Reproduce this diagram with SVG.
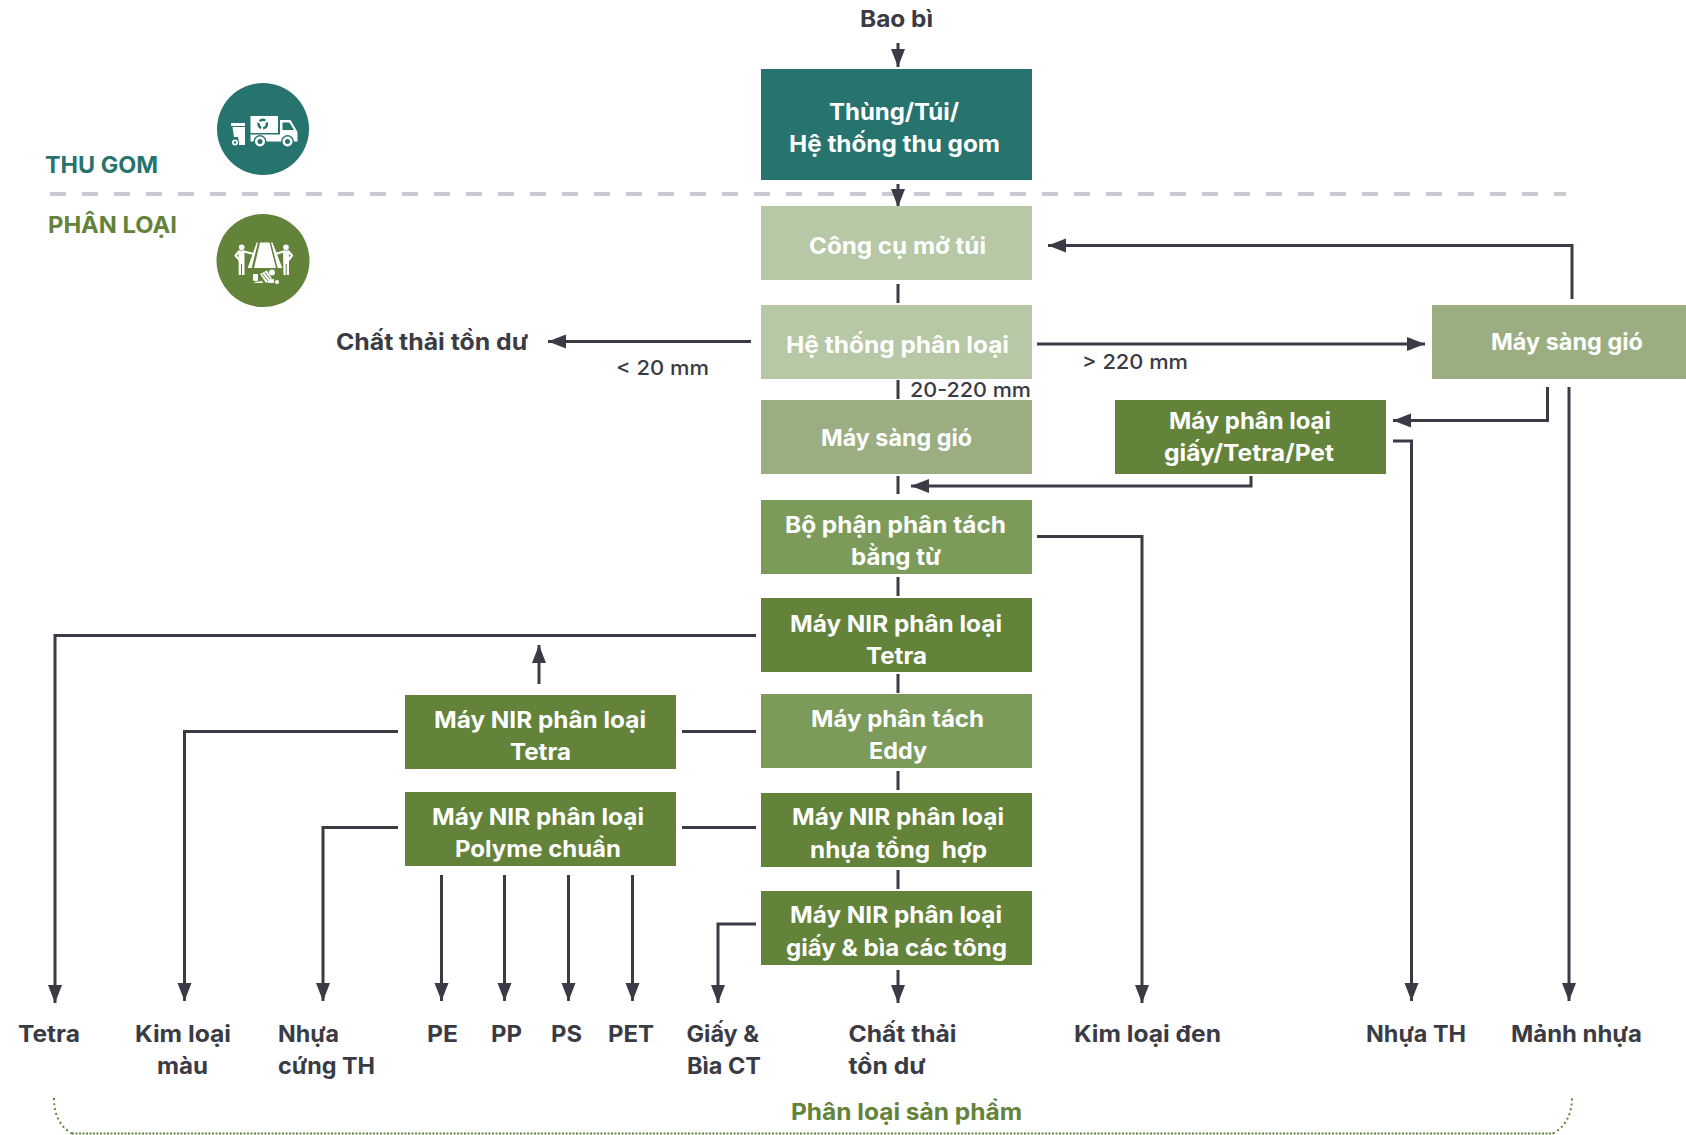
<svg xmlns="http://www.w3.org/2000/svg" width="1686" height="1135" viewBox="0 0 1686 1135">
<style>
text{font-family:"Inter","Liberation Sans",sans-serif;font-weight:700;font-size:23px;fill:#3a3b44}
.w{fill:#fff}
.m{font-weight:500;font-size:20px}
.teal{fill:#27736d}.dk{fill:#63823a}.md{fill:#7c9b5b}.sg{fill:#9aae82}.lt{fill:#b6c8a6}
#connectors path{fill:none;stroke:#3a3b44;stroke-width:3}
.a{marker-end:url(#ah)}
.lim{fill:none;stroke:#fff;stroke-width:2.200;stroke-linejoin:round;stroke-linecap:round}
</style>
<defs><marker id="ah" markerUnits="userSpaceOnUse" markerWidth="19" markerHeight="16" refX="18" refY="7" orient="auto" viewBox="0 0 19 14"><path d="M0 0L18 7L0 14Z" fill="#3a3b44"/></marker></defs>
<rect width="1686" height="1135" fill="#fff"/>
<path d="M50 194H1566" stroke="#c9cbd0" stroke-width="4" stroke-dasharray="16 16" fill="none"/>
<g id="connectors">
<path class="a" d="M898 43V67"/><path class="a" d="M898 184V207"/>
<path d="M898 284V303M898 380V399M898 476V494M898 577V596M898 674V693M898 771V790M898 870V889"/>
<path class="a" d="M1572 299V245.500H1048"/>
<path class="a" d="M1037 344H1425"/>
<path class="a" d="M751 341.500H548"/>
<path class="a" d="M1547.500 387V420.500H1393"/>
<path class="a" d="M1569 387V1001"/>
<path class="a" d="M1393 441H1411.500V1001"/>
<path class="a" d="M1251 476V486H911"/>
<path class="a" d="M1037 536.500H1142V1003"/>
<path class="a" d="M756 635.500H55V1003"/>
<path class="a" d="M539 684V645"/>
<path d="M682 731.500H756M682 827.500H756"/>
<path class="a" d="M398 731.500H184.500V1001"/>
<path class="a" d="M398 827.500H323V1001"/>
<path class="a" d="M441.500 875V1001"/><path class="a" d="M504.500 875V1001"/><path class="a" d="M568.500 875V1001"/><path class="a" d="M632.500 875V1001"/>
<path class="a" d="M756 924H718V1003"/>
<path class="a" d="M898 970V1003"/>
</g>
<g id="bracket" fill="none" stroke="#63823a" stroke-width="2">
<path stroke-dasharray="2 1.500" d="M72 1133.500H1553"/>
<path stroke-dasharray="2 3" d="M54 1098C54 1115 60 1127 72 1133.500"/>
<path stroke-dasharray="2 3" d="M1553 1133.500C1565 1127 1572 1115 1572 1097"/>
</g>
<g id="thu-gom-icon"><circle cx="263" cy="129" r="46" class="teal"/>
<path fill="#fff" fill-rule="evenodd" d="M250.500 116H278V133H250.500ZM250.500 134.500H280V120H290.500L297.500 132V141.500H250.500ZM282.500 122.500V130H294L289.500 122.500Z"/>
<path fill="#fff" d="M231 123H245V126H231ZM232.500 127H245V145H239L238 137H234Z"/>
<g fill="#27736d"><circle cx="260" cy="141.500" r="6.500"/><circle cx="287.500" cy="141.500" r="6.500"/><circle cx="235" cy="142.500" r="4"/></g>
<g fill="#fff"><circle cx="260" cy="141.500" r="5"/><circle cx="287.500" cy="141.500" r="5"/><circle cx="235" cy="142.500" r="3"/></g>
<g fill="#27736d"><circle cx="260" cy="141.500" r="2.500"/><circle cx="287.500" cy="141.500" r="2.500"/><circle cx="235" cy="142.500" r="1.200"/></g>
<circle cx="262.700" cy="124" r="4.200" fill="none" stroke="#27736d" stroke-width="2.400" stroke-dasharray="6 2"/></g>
<g id="phan-loai-icon"><circle cx="263" cy="260.500" r="46.500" class="dk"/>
<path fill="#fff" d="M260 242.500H269.500L276 268H254ZM256.700 242.500H258L251.700 268H247.700ZM271 242.500H272.500L282.300 268H277.700Z"/>
<g fill="#fff"><circle cx="241.700" cy="247.300" r="2.800"/><circle cx="286" cy="247.300" r="2.800"/>
<path d="M238.500 250.500H244.500V275H242V264H241V275H238.700ZM283 250.500H289V275H286.700V264H285.700V275H283.500Z"/></g>
<path class="lim" d="M239 251.500L235.500 255.500L239.500 260M244 251.500L252 253.500M288.500 251.500L292 255.500L288.500 260M283.500 251.500L277 253.500"/>
<g fill="#fff"><rect x="253" y="274" width="5" height="7" rx="1"/><path d="M260 274L267 270.500L272 279L266 283Z"/><circle cx="272" cy="272.500" r="3"/><circle cx="277" cy="282" r="2"/><path d="M255 282L262 281L263 283H254ZM268 280L274 279V283L268 283Z"/></g>
<path d="M262 274L268 281M265 272.500L270 279" stroke="#63823a" stroke-width="1"/></g>
<text class="teal" x="45" y="173" textLength="113" lengthAdjust="spacingAndGlyphs">THU GOM</text>
<text class="dk" x="48" y="232.500" textLength="129" lengthAdjust="spacingAndGlyphs">PHÂN LOẠI</text>
<text x="860" y="27" textLength="73" lengthAdjust="spacingAndGlyphs">Bao bì</text>
<g id="n1"><rect x="761" y="69" width="271" height="111" class="teal"/><text class="w" x="829" y="120" textLength="130" lengthAdjust="spacingAndGlyphs">Thùng/Túi/</text><text class="w" x="789" y="152" textLength="211" lengthAdjust="spacingAndGlyphs">Hệ thống thu gom</text></g>
<g id="n2"><rect x="761" y="206" width="271" height="74" class="lt"/><text class="w" x="809" y="254" textLength="177" lengthAdjust="spacingAndGlyphs">Công cụ mở túi</text></g>
<g id="n3"><rect x="761" y="305" width="271" height="74" class="lt"/><text class="w" x="786" y="353" textLength="223" lengthAdjust="spacingAndGlyphs">Hệ thống phân loại</text></g>
<g id="n4"><rect x="761" y="400" width="271" height="74" class="sg"/><text class="w" x="821" y="446" textLength="151" lengthAdjust="spacingAndGlyphs">Máy sàng gió</text></g>
<g id="n5"><rect x="761" y="500" width="271" height="74" class="md"/><text class="w" x="785" y="533" textLength="221" lengthAdjust="spacingAndGlyphs">Bộ phận phân tách</text><text class="w" x="851" y="565" textLength="90" lengthAdjust="spacingAndGlyphs">bằng từ</text></g>
<g id="n6"><rect x="761" y="598" width="271" height="74" class="dk"/><text class="w" x="790" y="632" textLength="212" lengthAdjust="spacingAndGlyphs">Máy NIR phân loại</text><text class="w" x="866" y="664" textLength="61" lengthAdjust="spacingAndGlyphs">Tetra</text></g>
<g id="n7"><rect x="761" y="694" width="271" height="74" class="md"/><text class="w" x="811" y="727" textLength="173" lengthAdjust="spacingAndGlyphs">Máy phân tách</text><text class="w" x="869" y="759" textLength="58" lengthAdjust="spacingAndGlyphs">Eddy</text></g>
<g id="n8"><rect x="761" y="793" width="271" height="74" class="dk"/><text class="w" x="792" y="825" textLength="212" lengthAdjust="spacingAndGlyphs">Máy NIR phân loại</text><text class="w" x="810" y="858" textLength="177" lengthAdjust="spacingAndGlyphs" xml:space="preserve">nhựa tổng  hợp</text></g>
<g id="n9"><rect x="761" y="891" width="271" height="74" class="dk"/><text class="w" x="790" y="923" textLength="212" lengthAdjust="spacingAndGlyphs">Máy NIR phân loại</text><text class="w" x="786" y="956" textLength="221" lengthAdjust="spacingAndGlyphs">giấy &amp; bìa các tông</text></g>
<g id="n10"><rect x="1432" y="305" width="254" height="74" class="sg"/><text class="w" x="1491" y="350" textLength="152" lengthAdjust="spacingAndGlyphs">Máy sàng gió</text></g>
<g id="n11"><rect x="1115" y="400" width="271" height="74" class="dk"/><text class="w" x="1169" y="429" textLength="162" lengthAdjust="spacingAndGlyphs">Máy phân loại</text><text class="w" x="1164" y="461" textLength="170" lengthAdjust="spacingAndGlyphs">giấy/Tetra/Pet</text></g>
<g id="n12"><rect x="405" y="695" width="271" height="74" class="dk"/><text class="w" x="434" y="728" textLength="212" lengthAdjust="spacingAndGlyphs">Máy NIR phân loại</text><text class="w" x="510" y="760" textLength="61" lengthAdjust="spacingAndGlyphs">Tetra</text></g>
<g id="n13"><rect x="405" y="792" width="271" height="74" class="dk"/><text class="w" x="432" y="825" textLength="212" lengthAdjust="spacingAndGlyphs">Máy NIR phân loại</text><text class="w" x="455" y="857" textLength="166" lengthAdjust="spacingAndGlyphs">Polyme chuẩn</text></g>
<text x="336" y="350" textLength="192" lengthAdjust="spacingAndGlyphs">Chất thải tồn dư</text>
<text class="m" x="616" y="375" textLength="93" lengthAdjust="spacingAndGlyphs">&lt; 20 mm</text>
<text class="m" x="1082" y="369" textLength="106" lengthAdjust="spacingAndGlyphs">&gt; 220 mm</text>
<text class="m" x="910" y="397" textLength="121" lengthAdjust="spacingAndGlyphs">20-220 mm</text>
<text x="18" y="1042" textLength="62" lengthAdjust="spacingAndGlyphs">Tetra</text>
<text x="135" y="1042" textLength="96" lengthAdjust="spacingAndGlyphs">Kim loại</text><text x="157" y="1074" textLength="51" lengthAdjust="spacingAndGlyphs">màu</text>
<text x="278" y="1042" textLength="61" lengthAdjust="spacingAndGlyphs">Nhựa</text><text x="278" y="1074" textLength="97" lengthAdjust="spacingAndGlyphs">cứng TH</text>
<text x="427" y="1042" textLength="31" lengthAdjust="spacingAndGlyphs">PE</text>
<text x="491" y="1042" textLength="31" lengthAdjust="spacingAndGlyphs">PP</text>
<text x="551" y="1042" textLength="31" lengthAdjust="spacingAndGlyphs">PS</text>
<text x="608" y="1042" textLength="46" lengthAdjust="spacingAndGlyphs">PET</text>
<text x="686.500" y="1042" textLength="72.500" lengthAdjust="spacingAndGlyphs">Giấy &amp;</text><text x="687" y="1074" textLength="74" lengthAdjust="spacingAndGlyphs">Bìa CT</text>
<text x="848.500" y="1042" textLength="108" lengthAdjust="spacingAndGlyphs">Chất thải</text><text x="848.500" y="1074" textLength="77" lengthAdjust="spacingAndGlyphs">tồn dư</text>
<text x="1074" y="1042" textLength="147" lengthAdjust="spacingAndGlyphs">Kim loại đen</text>
<text x="1366" y="1042" textLength="100" lengthAdjust="spacingAndGlyphs">Nhựa TH</text>
<text x="1511" y="1042" textLength="131" lengthAdjust="spacingAndGlyphs">Mảnh nhựa</text>
<text class="dk" x="791" y="1120" textLength="231" lengthAdjust="spacingAndGlyphs">Phân loại sản phẩm</text>
</svg>
